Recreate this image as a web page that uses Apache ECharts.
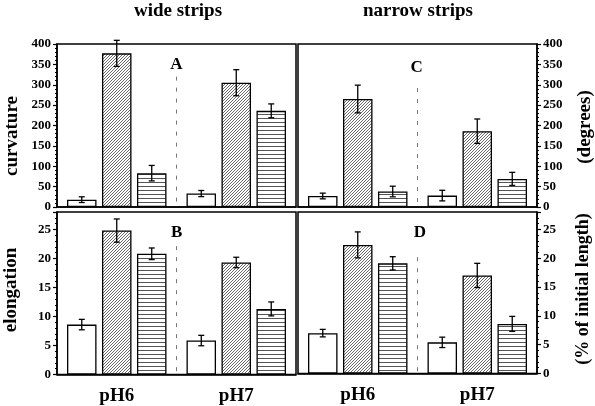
<!DOCTYPE html>
<html>
<head>
<meta charset="utf-8">
<script src="https://cdn.jsdelivr.net/npm/echarts@6/dist/echarts.min.js"></script>
<style>
html,body{margin:0;padding:0;background:#fff;}
#chart{width:595px;height:406px;}
</style>
</head>
<body>
<div id="chart"></div>
<script>
// ---------- data ----------
const groups = ['pH6', 'pH7'];

// A: curvature, wide strips
const curvWideOpen = [18, 33];      const curvWideOpenErr = [7, 7.5];
const curvWideDiag = [377, 305];    const curvWideDiagErr = [32, 32];
const curvWideHoriz = [83, 236];    const curvWideHorizErr = [19, 17];
// C: curvature, narrow strips
const curvNarrowOpen = [27, 28];    const curvNarrowOpenErr = [7, 13];
const curvNarrowDiag = [265, 186];  const curvNarrowDiagErr = [34, 30];
const curvNarrowHoriz = [38, 69];   const curvNarrowHorizErr = [13, 16];
// B: elongation, wide strips
const elongWideOpen = [8.6, 5.85];  const elongWideOpenErr = [0.9, 0.9];
const elongWideDiag = [24.8, 19.3]; const elongWideDiagErr = [2.0, 0.9];
const elongWideHoriz = [20.8, 11.3];const elongWideHorizErr = [1.0, 1.2];
// D: elongation, narrow strips
const elongNarrowOpen = [7.0, 5.4];   const elongNarrowOpenErr = [0.65, 0.9];
const elongNarrowDiag = [22.3, 17.0]; const elongNarrowDiagErr = [2.25, 2.1];
const elongNarrowHoriz = [19.1, 8.6]; const elongNarrowHorizErr = [1.15, 1.3];

const curvTicks = {min: 0, max: 400, interval: 50};
const elongTicks = {min: 0, max: 28, interval: 5};

// ---------- styling ----------
const FONT = "'Liberation Serif','Times New Roman',serif";
const BAR_W = 29.5;
const BAR_GAP = 0.186;
const BAR_STEP = BAR_W * (1 + BAR_GAP);
const CAP = 3;

function diagPattern() {
  const c = document.createElement('canvas');
  c.width = 3; c.height = 3;
  const g = c.getContext('2d');
  g.fillStyle = '#fff'; g.fillRect(0, 0, 3, 3);
  g.strokeStyle = '#3a3a3a'; g.lineWidth = 0.75;
  [0, 3, 6].forEach(k => { g.beginPath(); g.moveTo(k + 1, -1); g.lineTo(k - 4, 4); g.stroke(); });
  return {image: c, repeat: 'repeat'};
}
function horizPattern() {
  const c = document.createElement('canvas');
  c.width = 4; c.height = 4;
  const g = c.getContext('2d');
  g.fillStyle = '#fff'; g.fillRect(0, 0, 4, 4);
  g.fillStyle = '#555'; g.fillRect(0, 2, 4, 1);
  return {image: c, repeat: 'repeat'};
}
const fills = ['#ffffff', diagPattern(), horizPattern()];

const panels = [
  {grid: {left: 57, top: 44, width: 239, height: 163}, ticks: curvTicks, pos: 'left', bottom: false, sepFrac: 0.80,
   vals: [curvWideOpen, curvWideDiag, curvWideHoriz], errs: [curvWideOpenErr, curvWideDiagErr, curvWideHorizErr]},
  {grid: {left: 298, top: 44, width: 239, height: 163}, ticks: curvTicks, pos: 'right', bottom: false, sepFrac: 0.73,
   vals: [curvNarrowOpen, curvNarrowDiag, curvNarrowHoriz], errs: [curvNarrowOpenErr, curvNarrowDiagErr, curvNarrowHorizErr]},
  {grid: {left: 57, top: 212, width: 239, height: 162.5}, ticks: elongTicks, pos: 'left', bottom: true, sepFrac: 0.79,
   vals: [elongWideOpen, elongWideDiag, elongWideHoriz], errs: [elongWideOpenErr, elongWideDiagErr, elongWideHorizErr]},
  {grid: {left: 298, top: 212, width: 239, height: 161.5}, ticks: elongTicks, pos: 'right', bottom: true, sepFrac: 0.72,
   vals: [elongNarrowOpen, elongNarrowDiag, elongNarrowHoriz], errs: [elongNarrowOpenErr, elongNarrowDiagErr, elongNarrowHorizErr]}
];

const grid = [], xAxis = [], yAxis = [], series = [];
panels.forEach((p, k) => {
  grid.push(Object.assign({show: true, borderColor: '#000', borderWidth: 1.5, backgroundColor: 'transparent'}, p.grid));
  xAxis.push({
    type: 'category', gridIndex: k, data: groups,
    axisLine: {show: true, lineStyle: {color: '#000', width: 1.5}},
    axisTick: {show: false},
    splitLine: {show: false},
    axisLabel: {show: p.bottom, color: '#000', fontFamily: FONT, fontWeight: 'bold', fontSize: 19, margin: 12}
  });
  yAxis.push({
    type: 'value', gridIndex: k, position: p.pos,
    min: p.ticks.min, max: p.ticks.max, interval: p.ticks.interval,
    axisLine: {show: true, lineStyle: {color: '#000', width: 1.5}},
    axisTick: {show: true, length: 4, lineStyle: {color: '#000', width: 1.2}},
    minorTick: {show: true, splitNumber: 5, length: 2, lineStyle: {color: '#000', width: 1}},
    splitLine: {show: false},
    axisLabel: {color: '#000', fontFamily: FONT, fontWeight: 'bold', fontSize: 13, margin: 6, showMaxLabel: p.ticks.max % p.ticks.interval === 0}
  });
  p.vals.forEach((vals, i) => {
    series.push({
      type: 'bar', xAxisIndex: k, yAxisIndex: k,
      data: vals, barWidth: BAR_W, barGap: (BAR_GAP * 100) + '%',
      itemStyle: {color: fills[i], borderColor: '#000', borderWidth: 1.3},
      emphasis: {disabled: true}, animation: false, z: 2
    });
  });
  p.vals.forEach((vals, i) => {
    const errs = p.errs[i];
    series.push({
      type: 'custom', xAxisIndex: k, yAxisIndex: k, z: 5, animation: false, clip: false,
      encode: {x: 0, y: 1},
      data: groups.map((g, j) => [j, vals[j], errs[j]]),
      renderItem: function (params, api) {
        const xi = api.value(0), v = api.value(1), e = api.value(2);
        const cx = api.coord([xi, v])[0] + (i - 1) * BAR_STEP;
        const top = api.coord([xi, v + e])[1];
        const bot = api.coord([xi, v - e])[1];
        const style = {stroke: '#000', lineWidth: 1.3};
        return {type: 'group', children: [
          {type: 'line', shape: {x1: cx, y1: top, x2: cx, y2: bot}, style: style},
          {type: 'line', shape: {x1: cx - CAP, y1: top, x2: cx + CAP, y2: top}, style: style},
          {type: 'line', shape: {x1: cx - CAP, y1: bot, x2: cx + CAP, y2: bot}, style: style}
        ]};
      }
    });
  });
  // dashed separator between the two pH groups
  series.push({
    type: 'custom', xAxisIndex: k, yAxisIndex: k, z: 1, animation: false,
    data: [[0, 0]],
    renderItem: function (params, api) {
      const cs = params.coordSys;
      const x = cs.x + cs.width / 2;
      return {type: 'line', shape: {x1: x, y1: cs.y + cs.height * (1 - p.sepFrac), x2: x, y2: cs.y + cs.height},
        style: {stroke: '#777', lineWidth: 1, lineDash: [4, 7]}};
    }
  });
});

function txt(text, x, y, size, rot) {
  return {type: 'text', x: x, y: y, rotation: rot || 0, z: 10,
    style: {text: text, font: 'bold ' + size + 'px ' + FONT, fill: '#000', textAlign: 'center', textVerticalAlign: 'middle'}};
}

const graphic = [
  txt('wide strips', 178, 11, 19),
  txt('narrow strips', 418, 11, 19),
  txt('A', 176.5, 65, 17),
  txt('C', 416.7, 68, 17),
  txt('B', 176.7, 233, 17),
  txt('D', 420, 233, 17),
  txt('curvature', 12, 136, 19, Math.PI / 2),
  txt('elongation', 11, 290, 19, Math.PI / 2),
  txt('(degrees)', 585, 127, 19, Math.PI / 2),
  txt('(% of initial length)', 583.5, 289, 18, Math.PI / 2)
];

const chart = echarts.init(document.getElementById('chart'), null, {renderer: 'canvas'});
chart.setOption({
  animation: false,
  backgroundColor: '#fff',
  grid: grid, xAxis: xAxis, yAxis: yAxis, series: series, graphic: graphic
});
</script>
</body>
</html>
